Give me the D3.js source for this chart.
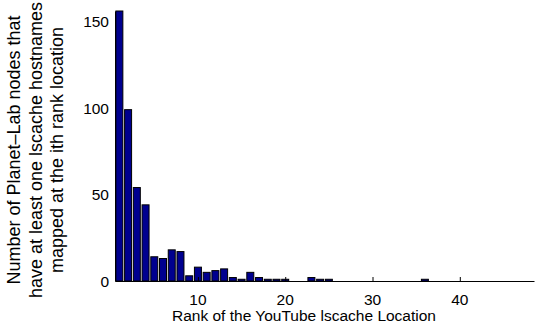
<!DOCTYPE html>
<html>
<head>
<meta charset="utf-8">
<script src="https://cdn.jsdelivr.net/npm/d3@7"></script>
<style>
  body { margin: 0; background: #fff; }
  text { font-family: Arial, "Liberation Sans", sans-serif; fill: #000; }
</style>
</head>
<body>
<svg id="chart" width="535" height="326"></svg>
<script>
// rank of the lscache location (1..48)
var ranks = d3.range(1, 49);
// number of Planet-Lab nodes per rank
var counts = [156, 99, 54, 44, 14, 13, 18, 17, 3, 8,
              5, 6, 7, 2, 1, 5, 2, 1, 1, 1,
              0, 0, 2, 1, 1, 0, 0, 0, 0, 0,
              0, 0, 0, 0, 0, 1, 0, 0, 0, 0,
              0, 0, 0, 0, 0, 0, 0, 0];
var xTicks = [10, 20, 30, 40];
var yTicks = [0, 50, 100, 150];
var yLabelLines = ["Number of Planet\u2013Lab nodes that",
                   "have at least one lscache hostnames",
                   "mapped at the ith rank location"];
var xLabel = "Rank of the YouTube lscache Location";

var svg = d3.select("#chart");

// plot box (note: "top" is reserved on window, so use plot* names)
var plotLeft = 115, plotRight = 534, plotTop = 11, plotBottom = 281;

var x = d3.scaleLinear().domain([0.5, 48.5]).range([plotLeft, plotRight]),
    y = d3.scaleLinear().domain([0, 156]).range([plotBottom, plotTop]);

var data = ranks.map(function(r, i) {
    return { rank: r, count: counts[i] };
});

// bars (matlab default width 0.8)
svg.selectAll(".bar")
    .data(data.filter(function(d) { return d.count > 0; }))
    .enter().append("rect")
    .attr("class", "bar")
    .attr("x", function(d) { return x(d.rank - 0.4); })
    .attr("y", function(d) { return y(d.count); })
    .attr("width", function(d) { return x(d.rank + 0.4) - x(d.rank - 0.4); })
    .attr("height", function(d) { return y(0) - y(d.count); })
    .attr("fill", "#00008f")
    .attr("stroke", "#000")
    .attr("stroke-width", 1);

// x axis, ticks pointing in
var gx = svg.append("g")
    .attr("transform", "translate(0," + plotBottom + ")")
    .call(d3.axisTop(x).tickValues(xTicks).tickSize(4).tickSizeOuter(0).tickFormat(""));
gx.select(".domain").attr("stroke", "#000");
gx.selectAll(".tick line").attr("stroke", "#000");
gx.selectAll(".tick-label")
    .data(xTicks)
    .enter().append("text")
    .attr("x", function(d) { return x(d); })
    .attr("y", 23.5)
    .attr("text-anchor", "middle")
    .style("font-size", "15.5px")
    .text(function(d) { return d; });

// y axis
var gy = svg.append("g")
    .attr("transform", "translate(" + plotLeft + ",0)")
    .call(d3.axisRight(y).tickValues(yTicks).tickSize(0).tickSizeOuter(0).tickFormat(""));
gy.select(".domain").attr("stroke", "#000");
gy.selectAll(".tick-label")
    .data(yTicks)
    .enter().append("text")
    .attr("x", -6)
    .attr("y", function(d) { return y(d); })
    .attr("dy", "0.36em")
    .attr("text-anchor", "end")
    .style("font-size", "15.5px")
    .text(function(d) { return d; });

// axis titles (figure is cropped on the right, label centre sits left of plot centre)
svg.append("text")
    .attr("x", 304)
    .attr("y", 321)
    .attr("text-anchor", "middle")
    .style("font-size", "15.5px")
    .text(xLabel);

svg.append("g")
    .attr("transform", "translate(0,150) rotate(-90)")
    .selectAll("text")
    .data(yLabelLines)
    .enter().append("text")
    .attr("x", 0)
    .attr("y", function(d, i) { return 20 + i * 21.5; })
    .attr("text-anchor", "middle")
    .style("font-size", "18px")
    .text(function(d) { return d; });
</script>
</body>
</html>
